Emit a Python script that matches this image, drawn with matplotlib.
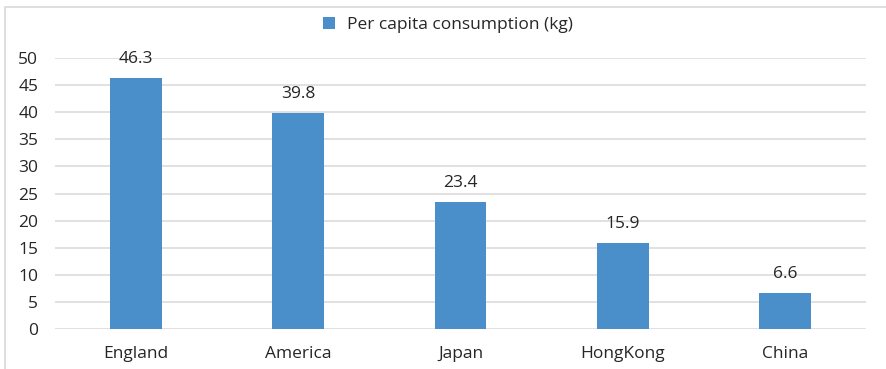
import numpy as np
import matplotlib.pyplot as plt
from matplotlib.patches import Rectangle

countries = ["England", "America", "Japan", "HongKong", "China"]
consumption = [46.3, 39.8, 23.4, 15.9, 6.6]
yticks = [0, 5, 10, 15, 20, 25, 30, 35, 40, 45, 50]

plt.rcParams['font.family'] = ['Open Sans', 'DejaVu Sans']

fig = plt.figure(figsize=(8.86, 3.69), dpi=100)
ax = fig.add_axes([55 / 886, 1 - 329 / 369, 811 / 886, 271 / 369])

# chart area border (left and top edges visible)
fig.patches.append(Rectangle((4.5 / 886, -0.1), 1.2, 1 - 7.5 / 369 + 0.1,
                             transform=fig.transFigure, fill=False,
                             edgecolor='#d9d9d9', linewidth=1.2))

x = np.arange(len(countries))
bars = ax.bar(x, consumption, width=0.32, color='#4a8fca',
              label='Per capita consumption (kg)', zorder=3)

for xi, v in zip(x, consumption):
    ax.text(xi, v + 2.0, f"{v}", ha='center', va='bottom', fontsize=12.5, color='#262626')

ax.set_xlim(-0.5, len(countries) - 0.5)
ax.set_ylim(0, 50)
ax.set_yticks(yticks)
ax.set_xticks(x)
ax.set_xticklabels(countries)
ax.grid(axis='y', color='#d9d9d9', linewidth=1.1, zorder=0)
for s in ax.spines.values():
    s.set_visible(False)
ax.tick_params(axis='both', length=0, labelsize=12.5, colors='#262626')
ax.tick_params(axis='y', pad=12)
ax.tick_params(axis='x', pad=12)

fig.legend(handles=[bars], labels=['Per capita consumption (kg)'],
           loc='center', bbox_to_anchor=(448 / 886, 1 - 25 / 369),
           frameon=False, fontsize=12.5, handlelength=0.65, handleheight=0.65,
           handletextpad=0.7, labelcolor='#262626')

fig.savefig('out.png', dpi=100)
